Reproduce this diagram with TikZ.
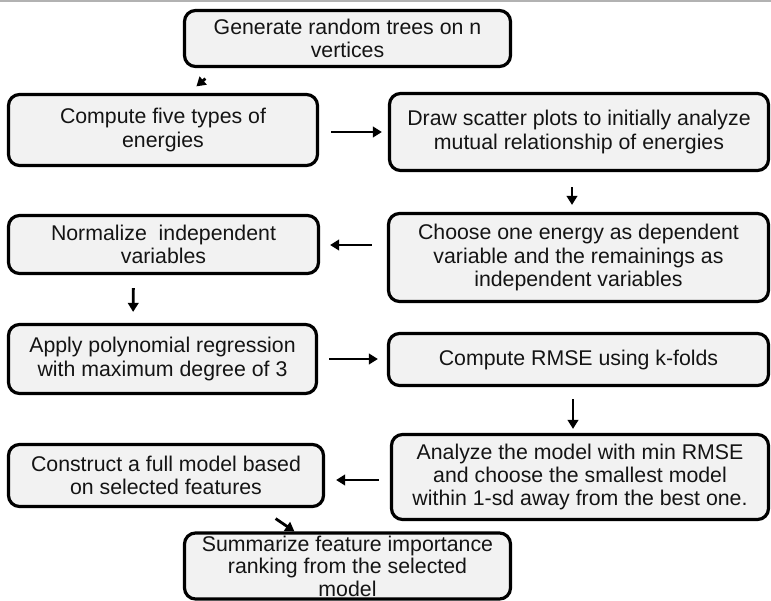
\documentclass[tikz,border=0pt]{standalone}
\usepackage{fontspec}
\setmainfont{Liberation Sans}
\usetikzlibrary{arrows.meta,calc}
\definecolor{boxfill}{HTML}{F2F2F2}
\definecolor{txt}{HTML}{141414}
\tikzset{
  box/.style={draw=black, line width=3.2pt, rounded corners=11pt, fill=boxfill,
    inner sep=0pt, align=center, text=txt,
    font=\fontsize{21.3}{23.3}\selectfont},
  arr/.style={draw=black, line width=2.8pt,
    -{Triangle[length=9pt,width=10.5pt]}}
}
\begin{document}
\begin{tikzpicture}[x=1pt,y=-1pt]
\clip (0,0) rectangle (771,600);
\fill[white] (0,0) rectangle (771,600);
\draw[gray!60, line width=1.5pt] (0,0.75) -- (771,0.75);

\node[box, minimum width=326pt, minimum height=56pt] (b1) at (347.5,38.5)
  {Generate random trees on n\\vertices};
\node[box, minimum width=309pt, minimum height=71pt] (b2) at (163,130)
  {Compute five types of\\energies};
\node[box, minimum width=379pt, minimum height=77pt] (b3) at (579,132)
  {Draw scatter plots to initially analyze\\mutual relationship of energies};
\node[box, minimum width=380pt, minimum height=88pt] (b4) at (578.5,257.5)
  {Choose one energy as dependent\\variable and the remainings as\\independent variables};
\node[box, minimum width=310pt, minimum height=58pt] (b5) at (163.5,244.5)
  {Normalize\ \ independent\\variables};
\node[box, minimum width=308pt, minimum height=69pt] (b6) at (162.5,359)
  {Apply polynomial regression\\with maximum degree of 3};
\node[box, minimum width=380pt, minimum height=52pt] (b7) at (578.5,359.5)
  {Compute RMSE using k-folds};
\node[box, minimum width=377pt, minimum height=85pt] (b8) at (580,477)
  {Analyze the model with min RMSE\\and choose the smallest model\\within 1-sd away from the best one.};
\node[box, minimum width=315pt, minimum height=62pt] (b9) at (166,475.5)
  {Construct a full model based\\on selected features};
\node[box, minimum width=326pt, minimum height=66pt, font=\fontsize{21.3}{22.4}\selectfont] (b10) at (347.5,566)
  {Summarize feature importance\\ranking from the selected\\model};

% connectors
\draw[arr] ($(b1.south west)+(22.5,10.5)$) -- ($(b2.north west)+(189.5,-6.5)$);
\draw[arr, shorten <=12pt, shorten >=6pt] ($(b2.east)+(0,2)$) -- ($(b3.west)+(0,0)$);
\draw[arr, shorten <=15pt, shorten >=7pt] ($(b3.south)+(-7,0)$) -- ($(b4.north)+(-6.5,0)$);
\draw[arr, shorten <=15pt, shorten >=10pt] ($(b4.west)+(0,-12.5)$) -- ($(b5.east)+(0,0.5)$);
\draw[arr, shorten <=13pt, shorten >=11pt] ($(b5.south)+(-30,0)$) -- ($(b6.north)+(-29.5,0)$);
\draw[arr, shorten <=11pt, shorten >=9pt] (b6.east) -- ($(b7.west)+(0,-0.5)$);
\draw[arr, shorten <=12pt, shorten >=4pt] ($(b7.south)+(-5.5,0)$) -- ($(b8.north)+(-7,0)$);
\draw[arr, shorten <=11pt, shorten >=11pt] ($(b8.west)+(0,3)$) -- ($(b9.east)+(0,4.5)$);
\draw[arr] ($(b9.south east)+(-49.5,10.5)$) -- ($(b10.north west)+(111.5,0)$);
\end{tikzpicture}
\end{document}
